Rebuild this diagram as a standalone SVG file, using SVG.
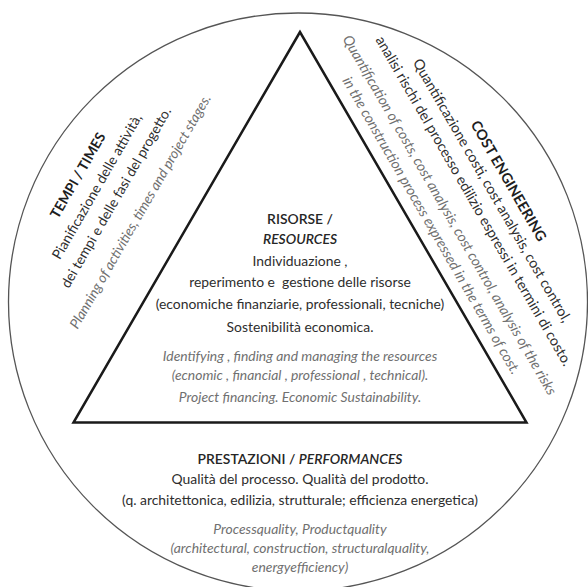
<svg xmlns="http://www.w3.org/2000/svg" width="588" height="587" viewBox="0 0 588 587">
  <style>
    text { font-family: Lato, "Open Sans", "Liberation Sans", sans-serif; font-size: 13.9px; fill: #2e2e2e; }
    .c { text-anchor: middle; }
    .h { font-weight: 600; fill: #262626; }
    .b { font-weight: 700; fill: #1e1e1e; }
    .en { font-style: italic; fill: #707070; }
    .it { font-style: italic; }
    #cost-engineering text { font-size: 14.3px; }
  </style>
  <rect width="588" height="587" fill="#ffffff"/>
  <g id="frame">
    <ellipse cx="298" cy="302" rx="289.5" ry="289" fill="none" stroke="#555555" stroke-width="1.3"/>
  </g>
  <g id="triangle">
    <polygon points="300,32 73.5,422.5 526.5,422.5" fill="none" stroke="#1a1a1a" stroke-width="2.5" stroke-linejoin="miter"/>
  </g>
  <g id="resources">
    <text class="c h" x="300" y="224">RISORSE /</text>
    <text class="c h it" x="300" y="244">RESOURCES</text>
    <text class="c" x="300" y="266">Individuazione ,</text>
    <text class="c" x="300" y="287" xml:space="preserve">reperimento e  gestione delle risorse</text>
    <text class="c" x="300" y="309">(economiche finanziarie, professionali, tecniche)</text>
    <text class="c" x="300" y="332">Sostenibilità economica.</text>
    <text class="c en" x="300" y="361">Identifying , finding and managing the resources</text>
    <text class="c en" x="300" y="380">(ecnomic , financial , professional , technical).</text>
    <text class="c en" x="300" y="402">Project financing. Economic Sustainability.</text>
  </g>
  <g id="performances">
    <text class="c h" x="300" y="464">PRESTAZIONI / <tspan class="it">PERFORMANCES</tspan></text>
    <text class="c" x="300" y="484">Qualità del processo. Qualità del prodotto.</text>
    <text class="c" x="300" y="505">(q. architettonica, edilizia, strutturale; efficienza energetica)</text>
    <text class="c en" x="300" y="534">Processquality, Productquality</text>
    <text class="c en" x="300" y="553">(architectural, construction, structuralquality,</text>
    <text class="c en" x="300" y="572">energyefficiency)</text>
  </g>
  <g id="times" transform="rotate(-60)">
    <text class="c b" x="-113" y="160">TEMPI / TIMES</text>
    <text class="c" x="-113" y="182">Pianificazione delle attività,</text>
    <text class="c" x="-113" y="204">dei tempi e delle fasi del progetto.</text>
    <text class="c en" x="-113" y="232">Planning of activities, times and project stages.</text>
  </g>
  <g id="cost-engineering" transform="rotate(60)">
    <text class="c b" x="411" y="-345">COST ENGINEERING</text>
    <text class="c" x="411" y="-326">Quantificazione costi, cost analysis, cost control,</text>
    <text class="c" x="411" y="-305">analisi rischi del processo edilizio espressi in termini di costo.</text>
    <text class="c en" x="411" y="-277">Quantification of costs, cost analysis, cost control, analysis of the risks</text>
    <text class="c en" x="411" y="-256">in the construction process expressed in the terms of cost.</text>
  </g>
  <g id="connectors"></g>
</svg>
